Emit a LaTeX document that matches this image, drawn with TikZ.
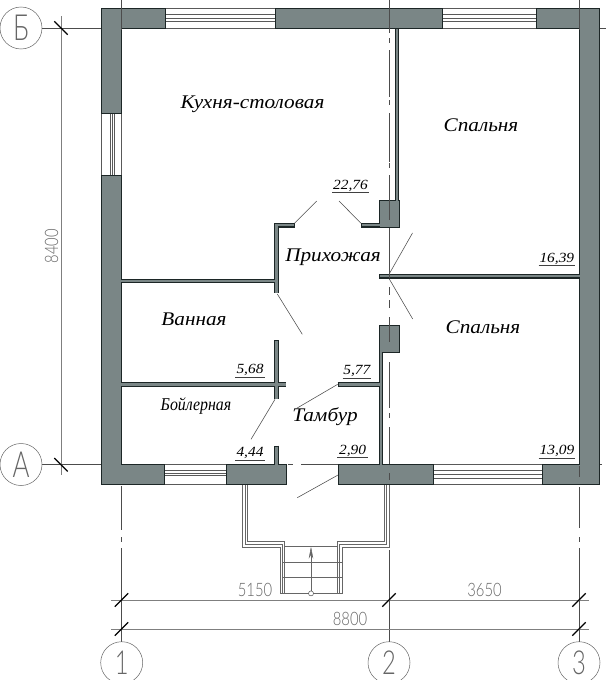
\documentclass[tikz,border=0pt]{standalone}
\usepackage{fontspec}
\setmainfont{Liberation Serif}
\newfontfamily\roomfont[FakeStretch=1.1]{Liberation Serif}
\newfontfamily\boilfont[FakeStretch=0.88]{Liberation Serif}
\newfontfamily\dimfont[FakeStretch=0.8]{Lato Light}
\newfontfamily\axisfont[FakeStretch=0.72]{Lato Light}
\usetikzlibrary{arrows.meta}
\definecolor{wallc}{HTML}{7A8686}
\definecolor{edgec}{HTML}{1C2626}
\definecolor{thinc}{HTML}{7F7F7F}
\definecolor{dimc}{HTML}{666666}
\tikzset{
 x=1pt,y=-1pt,
 wall/.style={fill=wallc,draw=edgec,line width=1pt,line join=miter},
 partout/.style={draw=edgec,line width=4.6pt},
 partin/.style={draw=wallc,line width=2.2pt},
 winline/.style={draw=black!65,line width=.55pt},
 axis/.style={draw=black!70,line width=.5pt},
 dimline/.style={draw=thinc,line width=.8pt},
 tick/.style={draw=black,line width=1.3pt},
 leaf/.style={draw=black!70,line width=.55pt},
 porch/.style={draw=black!60,line width=.5pt},
 bubble/.style={circle,draw=black!60,line width=.5pt,minimum size=42pt,inner sep=0pt,font=\axisfont\fontsize{36}{36}\selectfont,text=dimc},
 bubblenum/.style={bubble,font=\axisfont\fontsize{33}{33}\selectfont},
 room/.style={inner sep=0pt,font=\roomfont\itshape\fontsize{19.3}{19.3}\selectfont,text=black},
 area/.style={inner sep=0pt,font=\roomfont\itshape\fontsize{14}{14}\selectfont,text=black},
 dimt/.style={inner sep=0pt,font=\dimfont\fontsize{18.5}{18.5}\selectfont,text=dimc},
}
\newcommand{\areatext}[5]{% x1 x2 yline text name
 \node[area,anchor=south] (#5) at ({(#1+#2)/2},#3-1) {#4};
 \draw[draw=black!75,line width=.7pt] (#1,#3) -- (#2,#3);
}
\begin{document}
\begin{tikzpicture}
\useasboundingbox (0,0) rectangle (606,680);
\fill[white] (0,0) rectangle (606,680);
% axis horizontals outside
\draw[axis] (42,28) -- (606,28);
\draw[axis] (42,464.5) -- (286,464.5) (288,464.5) -- (293,464.5) (301,464.5) -- (602,464.5);
% windows
\foreach \a/\b in {165.7/275,443/536}{
 \draw[winline] (\a,8) -- (\b,8) (\a,14.6) -- (\b,14.6) (\a,18) -- (\b,18) (\a,21.5) -- (\b,21.5) (\a,28) -- (\b,28);}
\draw[winline] (101.5,113.5) -- (101.5,175.5) (110,113.5) -- (110,175.5) (112.3,113.5) -- (112.3,175.5) (114.7,113.5) -- (114.7,175.5) (121.5,113.5) -- (121.5,175.5);
\draw[winline] (164,464.5) -- (226,464.5) (164,470.7) -- (226,470.7) (164,473.3) -- (226,473.3) (164,475.7) -- (226,475.7) (164,484.3) -- (226,484.3);
\draw[winline] (433,464.5) -- (542,464.5) (433,470.7) -- (542,470.7) (433,474.7) -- (542,474.7) (433,478.7) -- (542,478.7) (433,484.3) -- (542,484.3);
% porch
\draw[porch] (242.7,484) -- (242.7,547) -- (280,547) -- (280,593.4) -- (342,593.4) -- (342,547) -- (389,547) -- (389,484);
\draw[porch] (245,484) -- (245,544.3) -- (282.4,544.3) -- (282.4,593.4);
\draw[porch] (247.3,484) -- (247.3,541.7) -- (284.7,541.7) -- (284.7,593.4);
\draw[porch] (386.7,484) -- (386.7,544.3) -- (339.7,544.3) -- (339.7,593.4);
\draw[porch] (384,484) -- (384,541.7) -- (337.3,541.7) -- (337.3,593.4);
\draw[porch] (284.7,546.7) -- (337.3,546.7) (282,562.3) -- (342,562.3) (282,577.7) -- (342,577.7);
\coordinate (arrtail) at (311,593.4);
\coordinate (arrtip) at (311,546.7);
\draw[porch,-{Stealth[length=12pt,width=4.5pt]}] (arrtail) -- (arrtip);
\node[circle,draw=black!70,fill=white,line width=.5pt,minimum size=5pt,inner sep=0pt] (arrdot) at (arrtail) {};
% partitions
\draw[partout] (396.9,28) -- (396.9,201)
 (361.3,225.3) -- (380,225.3)
 (294.7,225.3) -- (276.5,225.3) -- (276.5,293.3)
 (121.5,281) -- (276.5,281)
 (276.5,340.3) -- (276.5,399.3)
 (121.5,384.5) -- (286.3,384.5)
 (276.5,445.7) -- (276.5,464.5)
 (379.3,276.3) -- (579,276.3)
 (381.1,352) -- (381.1,464.5)
 (337.7,384.5) -- (381.1,384.5);
\draw[wall] (101.5,8) -- (165.7,8) -- (165.7,28) -- (121.5,28) -- (121.5,113.5) -- (101.5,113.5) -- cycle;
\draw[wall] (275,8) rectangle (442.7,28);
\draw[wall] (536,8) -- (599,8) -- (599,484.3) -- (542,484.3) -- (542,464.5) -- (579,464.5) -- (579,28) -- (536,28) -- cycle;
\draw[wall] (101.5,175.5) -- (121.5,175.5) -- (121.5,464.5) -- (164,464.5) -- (164,484.3) -- (101.5,484.3) -- cycle;
\draw[wall] (226,464.5) rectangle (286.5,484.3);
\draw[wall] (338,464.5) rectangle (433,484.3);
\draw[wall] (379.3,200.7) rectangle (399.3,227.7);
\draw[wall] (379.3,325.3) rectangle (399.3,352);
\draw[partin] (396.9,29) -- (396.9,201.5);
\draw[partin] (362,225.3) -- (380.5,225.3);
\draw[partin] (294,225.3) -- (276.5,225.3) -- (276.5,292.5);
\draw[partin] (121,281) -- (276.5,281);
\draw[partin] (276.5,341) -- (276.5,398.5);
\draw[partin] (121,384.5) -- (285.5,384.5);
\draw[partin] (276.5,446.5) -- (276.5,465);
\draw[partin] (380,276.3) -- (579.5,276.3);
\draw[partin] (381.1,351) -- (381.1,465);
\draw[partin] (338.5,384.5) -- (381.1,384.5);
% door leaves
\draw[leaf] (294.5,223.3) -- (316.7,201);
\draw[leaf] (361,223.3) -- (339,201);
\draw[leaf] (389,274.3) -- (412.5,233);
\draw[leaf] (389.3,279) -- (412.7,319);
\draw[leaf] (277.3,294) -- (302.3,334.3);
\draw[leaf] (337.7,384.3) -- (296.7,408.3);
\draw[leaf] (275,399.3) -- (251,439.3);
\draw[leaf] (338,475) -- (297.3,497.7);
% axes vertical
\draw[axis] (121.5,0) -- (121.5,30) (121.5,486) -- (121.5,530) (121.5,537) -- (121.5,542) (121.5,548) -- (121.5,642);
\draw[axis] (579,0) -- (579,30) (579,466) -- (579,477) (579,487) -- (579,528) (579,537) -- (579,542) (579,548) -- (579,642);
\draw[axis] (389,0) -- (389,33) (389,38) -- (389,43) (389,50) -- (389,97) (389,100) -- (389,105) (389,113) -- (389,162) (389,163) -- (389,168) (389,175) -- (389,220) (389,228) -- (389,278) (389,287) -- (389,295) (389,300) -- (389,308) (389,317) -- (389,342) (389,362) -- (389,408) (389,413) -- (389,418) (389,427) -- (389,464) (389,473) -- (389,480) (389,550) -- (389,642);
% dims
\draw[dimline] (61,16) -- (61,475);
\draw[dimline] (111,600) -- (589,600);
\draw[dimline] (111,629) -- (589,629);
\foreach \px/\py/\qx/\qy in {54.3/21.3/67.7/34.7,54.3/458/67.7/471.4}{\draw[tick] (\px,\py) -- (\qx,\qy);}
\foreach \cx/\cy in {121.5/600,389/600,579/600,121.5/629,579/629}{\draw[tick] (\cx-6.7,\cy+6.7) -- (\cx+6.7,\cy-6.7);}
\node[dimt,rotate=90] (d8400) at (51.7,246) {8400};
\node[dimt] (d5150) at (255,590) {5150};
\node[dimt] (d3650) at (484.5,590) {3650};
\node[dimt] (d8800) at (350,619.3) {8800};
% bubbles
\node[bubble] (axB) at (21,28) {Б};
\node[bubble] (axA) at (21,464.5) {А};
\node[bubblenum] (ax1) at (121.7,662.7) {1};
\node[bubblenum] (ax2) at (389,662.7) {2};
\node[bubblenum] (ax3) at (579,662.7) {3};
% rooms
\node[room] (r1) at (252.5,104) {Кухня-столовая};
\node[room] (r2) at (481,125) {Спальня};
\node[room] (r3) at (333,257.7) {Прихожая};
\node[room] (r4) at (483,327) {Спальня};
\node[room] (r5) at (194,319) {Ванная};
\node[room,font=\boilfont\itshape\fontsize{18}{18}\selectfont] (r6) at (196,406.5) {Бойлерная};
\node[room] (r7) at (325,416.7) {Тамбур};
% areas
\areatext{332.3}{368.7}{192.7}{22,76}{a1}
\areatext{538.7}{575}{265.7}{16,39}{a2}
\areatext{235}{265}{377}{5,68}{a3}
\areatext{342.7}{371}{378.3}{5,77}{a4}
\areatext{235}{265}{460}{4,44}{a5}
\areatext{337.3}{368}{457.7}{2,90}{a6}
\areatext{538.7}{575.3}{458.3}{13,09}{a7}
\end{tikzpicture}
\end{document}
